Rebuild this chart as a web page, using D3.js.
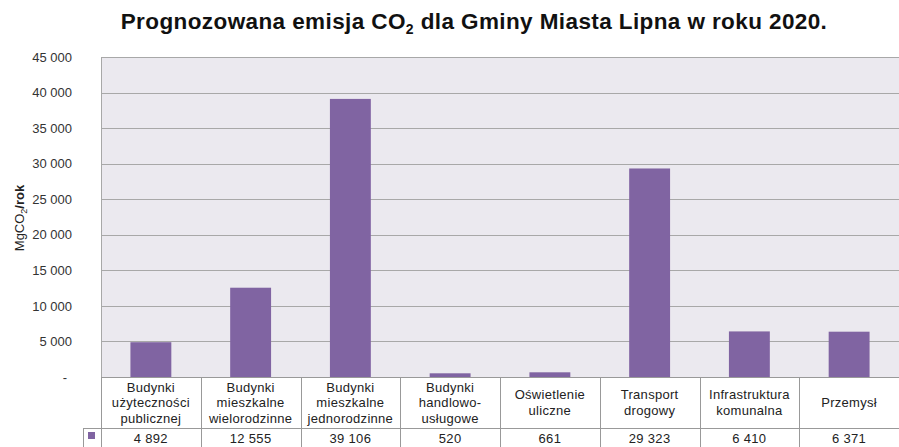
<!DOCTYPE html>
<html><head><meta charset="utf-8">
<script src="https://cdn.jsdelivr.net/npm/d3@7"></script>
<style>
body{margin:0;background:#fff;}
text{font-family:"Liberation Sans",Arial,sans-serif;}
</style></head>
<body><svg id="c" width="899" height="447"></svg>
<script>
const categories = [
  ["Budynki","użyteczności","publicznej"],
  ["Budynki","mieszkalne","wielorodzinne"],
  ["Budynki","mieszkalne","jednorodzinne"],
  ["Budynki","handlowo-","usługowe"],
  ["Oświetlenie","uliczne"],
  ["Transport","drogowy"],
  ["Infrastruktura","komunalna"],
  ["Przemysł"]
];
const values = [4892, 12555, 39106, 520, 661, 29323, 6410, 6371];
const yTicks = [0,5000,10000,15000,20000,25000,30000,35000,40000,45000];

const svg = d3.select("#c");
const L = 101, R = 899, T = 57, B = 377;
const fmt = v => v === 0 ? "-" : d3.format(",")(v).replace(/,/g, " ");

const x = d3.scaleBand().domain(d3.range(categories.length)).range([L, R]).paddingInner(0).paddingOuter(0);
const y = d3.scaleLinear().domain([0, 45000]).range([B, T]);

// title
const title = svg.append("text").attr("x", 474).attr("y", 29).attr("text-anchor","middle")
  .attr("font-size", 22.5).attr("font-weight","bold").attr("fill","#111").attr("letter-spacing",0.4);
title.append("tspan").text("Prognozowana emisja CO");
title.append("tspan").attr("font-size",14).attr("dy",5).text("2");
title.append("tspan").attr("dy",-5).text(" dla Gminy Miasta Lipna w roku 2020.");

// plot background
svg.append("rect").attr("x", L).attr("y", T).attr("width", R-L).attr("height", B-T).attr("fill","#ebe9ef");

// gridlines
svg.append("g").selectAll("line").data(yTicks.filter(d=>d>0)).join("line")
  .attr("x1", L).attr("x2", R).attr("y1", d=>Math.round(y(d))+0.5).attr("y2", d=>Math.round(y(d))+0.5)
  .attr("stroke","#a8a8a8").attr("stroke-width",1.2);
svg.append("line").attr("x1",L+0.5).attr("x2",L+0.5).attr("y1",T).attr("y2",B).attr("stroke","#a8a8a8");

// y axis
const yAxis = d3.axisLeft(y).tickValues(yTicks).tickSize(0).tickPadding(0).tickFormat(fmt);
const ga = svg.append("g").attr("transform",`translate(${72},0)`).call(yAxis);
ga.select(".domain").remove();
ga.selectAll("text").attr("font-size",13).attr("fill","#333").attr("font-family","Liberation Sans, Arial, sans-serif");
ga.selectAll(".tick").filter(d=>d===0).select("text").attr("x",-5);

// y label
const yl = svg.append("text").attr("transform","translate(24,218) rotate(-90)").attr("text-anchor","middle")
  .attr("font-size",13).attr("fill","#222");
yl.append("tspan").text("MgCO");
yl.append("tspan").attr("font-size",9).attr("dy",3).text("2");
yl.append("tspan").attr("dy",-3).attr("font-weight","bold").text("/rok");

// bars
const bw = x.bandwidth()*0.41;
svg.append("g").selectAll("rect").data(values).join("rect")
  .attr("x",(d,i)=>x(i)+x.bandwidth()/2-bw/2).attr("width",bw)
  .attr("y",d=>y(d)).attr("height",d=>B-y(d)).attr("fill","#8064a2");

// table
const tb = svg.append("g");
const rowMid = 428, rowBot = 447;
tb.append("line").attr("x1",L).attr("x2",R).attr("y1",B+0.5).attr("y2",B+0.5).attr("stroke","#999");
tb.append("line").attr("x1",83).attr("x2",R).attr("y1",rowMid+0.5).attr("y2",rowMid+0.5).attr("stroke","#999");
tb.append("line").attr("x1",83.5).attr("x2",83.5).attr("y1",rowMid).attr("y2",rowBot).attr("stroke","#999");
tb.selectAll(".vl").data(d3.range(categories.length+1)).join("line").attr("class","vl")
  .attr("x1",i=>Math.round(i<categories.length?x(i):R)+0.5).attr("x2",i=>Math.round(i<categories.length?x(i):R)+0.5)
  .attr("y1",B).attr("y2",rowBot).attr("stroke","#999");
tb.append("rect").attr("x",88).attr("y",432).attr("width",7).attr("height",7).attr("fill","#8064a2");

categories.forEach((lines,i)=>{
  const cx = x(i)+x.bandwidth()/2;
  const n = lines.length;
  const t = tb.append("text").attr("text-anchor","middle").attr("font-size",13).attr("fill","#222").attr("letter-spacing",0.3);
  lines.forEach((s,k)=>{
    t.append("tspan").attr("x",cx).attr("y", 407 + (k-(n-1)/2)*15.5).text(s);
  });
  tb.append("text").attr("x",cx).attr("y",443).attr("text-anchor","middle").attr("font-size",13).attr("fill","#222").attr("letter-spacing",0.3).text(fmt(values[i]));
});
</script></body></html>
